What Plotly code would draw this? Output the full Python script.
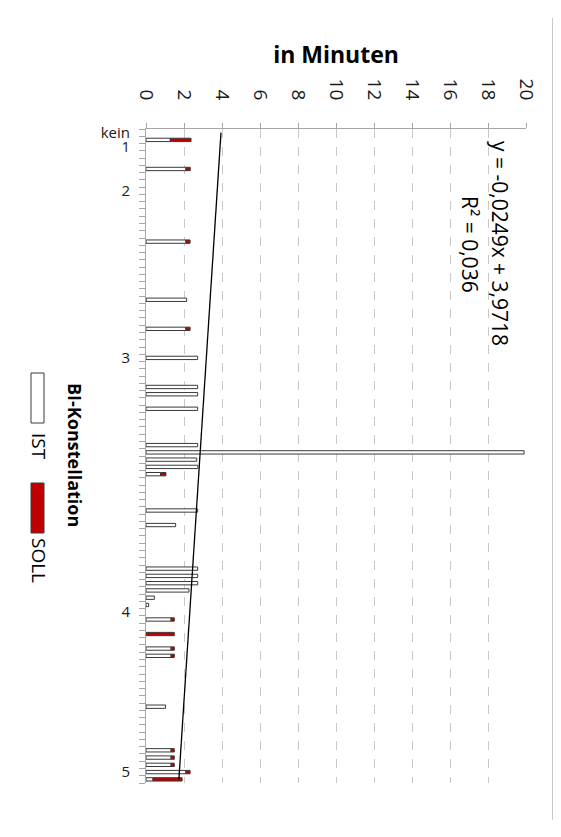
import plotly.graph_objects as go

# ---------------- data ----------------
# category rows (0 = top row) and their labels (blank rows have no label)
n_rows = 90
label_rows = [0, 2, 8, 31, 66, 88]
label_text = ["kein", "1", "2", "3", "4", "5"]

bar_rows = [1, 5, 15, 23, 27, 31, 35, 36, 38, 43, 44, 45, 46, 47, 52, 54,
            60, 61, 62, 63, 64, 65, 67, 69, 71, 72, 79, 85, 86, 87, 88, 89]
ist = [1.28, 2.10, 2.10, 2.14, 2.10, 2.72, 2.72, 2.72, 2.72, 2.72, 19.9, 2.67,
       2.73, 0.77, 2.72, 1.56, 2.72, 2.72, 2.72, 2.26, 0.44, 0.14, 1.32, None,
       1.32, 1.32, 1.03, 1.32, 1.32, 1.32, 2.10, 0.37]
soll = [1.09, 0.23, 0.22, -0.12, 0.22, None, None, None, None, None, None, None,
        None, 0.28, None, None, None, None, None, None, None, None, 0.17, 1.49,
        0.17, 0.17, None, 0.17, 0.17, 0.17, 0.22, 1.53]

trend_slope = -0.0249
trend_intercept = 3.9718
trend_label = "y = -0,0249x + 3,9718"
r2_label = "R² = 0,036"

x_ticks = [0, 2, 4, 6, 8, 10, 12, 14, 16, 18, 20]

# ---------------- geometry helpers ----------------
OFF = 8                      # page body margin
W, H = 545, 821
L, T = 138, 121
PW, PH = 380, 654
R, B = W - L - PW, H - T - PH


def px(x):                   # page pixel -> paper fraction
    return (x - OFF - L) / PW


def py(y):
    return (T + PH - (y - OFF)) / PH


FONT = "Open Sans"
outline = "#3a3a3a"

fig = go.Figure()
fig.add_trace(go.Bar(
    y=bar_rows, x=ist, orientation="h", name="IST", width=0.46,
    marker=dict(color="white", line=dict(color=outline, width=1)),
    showlegend=False))
fig.add_trace(go.Bar(
    y=bar_rows, x=soll, orientation="h", name="SOLL", width=0.46,
    marker=dict(color="#c00000", line=dict(color=outline, width=1)),
    showlegend=False))

# linear trendline (Excel category numbers 1..n_rows)
t_rows = [0, n_rows - 1]
t_x = [trend_intercept + trend_slope * (r + 1) for r in t_rows]
fig.add_trace(go.Scatter(x=t_x, y=t_rows, mode="lines",
                         line=dict(color="black", width=1.3),
                         showlegend=False, hoverinfo="skip"))

fig.update_layout(
    width=W, height=H, barmode="relative", bargap=0.5,
    margin=dict(l=L, r=R, t=T, b=B, pad=0),
    paper_bgcolor="white", plot_bgcolor="white",
    font=dict(family=FONT, color="#1a1a1a"),
)

fig.update_xaxes(
    side="top", range=[0, 20], tickvals=x_ticks, tickangle=90,
    tickfont=dict(size=19, color="#1a1a1a"),
    ticks="outside", ticklen=5, tickcolor="#a6a6a6",
    ticklabelstandoff=16,
    showline=True, linecolor="#a6a6a6", linewidth=1,
    showgrid=True, gridcolor="#c8c8c8", griddash="dash", gridwidth=1,
    zeroline=False,
    title=dict(text="<b>in Minuten</b>", font=dict(size=23, color="black"),
               standoff=8),
)

fig.update_yaxes(
    range=[n_rows - 0.5, -0.5], tickmode="array", tickvals=label_rows,
    ticktext=label_text, tickfont=dict(size=15, color="#1a1a1a"),
    ticks="", ticklabelstandoff=12,
    minor=dict(tickmode="array",
               tickvals=[i - 0.5 for i in range(n_rows + 1)],
               ticks="outside", ticklen=6, tickcolor="#a6a6a6",
               showgrid=False),
    showline=True, linecolor="#a6a6a6", linewidth=1,
    showgrid=False, zeroline=False,
)

# trendline equation (rotated like the reference)
fig.add_annotation(x=px(500), y=py(243), xref="paper", yref="paper",
                   xanchor="center", yanchor="middle",
                   text=trend_label, textangle=90, showarrow=False,
                   font=dict(size=21, color="black"))
fig.add_annotation(x=px(470), y=py(244), xref="paper", yref="paper",
                   xanchor="center", yanchor="middle",
                   text=r2_label, textangle=90, showarrow=False,
                   font=dict(size=21, color="black"))

# rotated legend
fig.add_annotation(x=px(75), y=py(455), xref="paper", yref="paper",
                   xanchor="center", yanchor="middle",
                   text="<b>BI-Konstellation</b>", textangle=90, showarrow=False,
                   font=dict(size=18, color="black"))
legend_items = [("IST", "white", 373, 423, 446), ("SOLL", "#c00000", 483, 533, 560)]
for name, col, y0, y1, ty in legend_items:
    fig.add_shape(type="rect", xref="paper", yref="paper",
                  x0=px(31), x1=px(44), y0=py(y1), y1=py(y0),
                  fillcolor=col, line=dict(color=outline, width=1))
    fig.add_annotation(x=px(39), y=py(ty), xref="paper", yref="paper",
                       xanchor="center", yanchor="middle",
                       text=name, textangle=90, showarrow=False,
                       font=dict(size=19, color="black"))

# chart frame (right edge visible in the reference)
fig.add_shape(type="line", xref="paper", yref="paper",
              x0=px(552.5), x1=px(552.5), y0=py(820), y1=py(18),
              line=dict(color="#c8c8c8", width=1))

fig.write_html("out.html")
